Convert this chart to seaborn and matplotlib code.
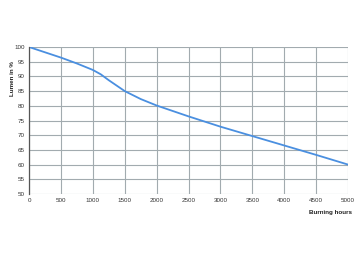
import matplotlib
matplotlib.use("Agg")
import matplotlib.pyplot as plt
import seaborn as sns
import pandas as pd

hours = [0, 500, 750, 1000, 1125, 1250, 1500, 1750, 2000, 2500, 3000, 3500, 4000, 4500, 5000]
lumen = [100, 96.4, 94.4, 92.2, 90.7, 88.7, 85.0, 82.3, 80.1, 76.4, 72.9, 69.7, 66.5, 63.3, 60.0]

sns.set_theme(style="white")
plt.rcParams['font.family'] = ['Liberation Sans', 'DejaVu Sans']

df = pd.DataFrame({"hours": hours, "lumen": lumen})
fig = plt.figure(figsize=(3.6, 2.62), dpi=100)
ax = fig.add_axes([0.0806, 0.2595, 0.8864, 0.5611])
sns.lineplot(data=df, x="hours", y="lumen", ax=ax, color="#4a8fe0", linewidth=1.3)
ax.set_xlim(0, 5000)
ax.set_ylim(50, 100)
ax.set_xticks(range(0, 5001, 500))
ax.set_yticks(range(50, 101, 5))
ax.grid(True, color="#a2abaf", linewidth=0.8)
for s in ["top", "right", "bottom"]:
    ax.spines[s].set_visible(False)
ax.spines["left"].set_color("#555555")
ax.spines["left"].set_linewidth(0.9)
ax.tick_params(axis="both", labelsize=4.5, length=0, pad=3, colors="#333333")
ax.set_xlabel("")
ax.set_ylabel("")
fig.text(0.035, 0.70, "Lumen in %", rotation=90, fontsize=4.5, fontweight="bold",
         ha="center", va="center", color="#222222")
fig.text(0.918, 0.19, "Burning hours", fontsize=4.5, fontweight="bold",
         ha="center", va="center", color="#222222")
fig.savefig("out.png", dpi=100)
